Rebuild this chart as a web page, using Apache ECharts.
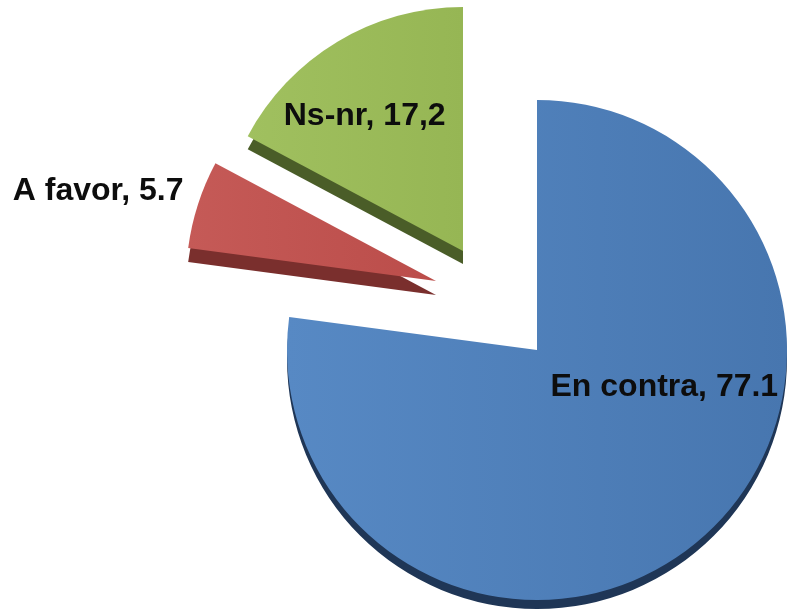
<!DOCTYPE html>
<html style="width:100%;height:100%">
<head>
    <meta charset="UTF-8">
    <title>En contra / A favor / Ns-nr</title>
    <script type="text/javascript" src="https://cdn.jsdelivr.net/npm/echarts@6/dist/echarts.min.js"></script>
</head>
<body style="margin:0;width:100%;height:100%;overflow:hidden;background:#fff">
    <div id="chart" style="width:788px;height:609px"></div>

    <script type="text/javascript">
        var categories = ['En contra', 'A favor', 'Ns-nr'];
        var values = [77.1, 5.7, 17.2];
        var valueTexts = ['77.1', '5.7', '17,2'];

        // look of each slice: top face gradient, side colour, where the exploded apex sits, label nudge
        var topColors = [['#5789c4', '#4776af'], ['#c55a57', '#bb4d4a'], ['#a0c05f', '#96b654']];
        var sideColors = ['#1f3656', '#7a2f2d', '#4a5d28'];
        var centers = [[537, 350], [436, 281], [463, 251]];
        var radii = [250, 250, 244];
        var depths = [9, 14, 13];
        var labelShift = [[43, -59], [-216, -51], [-34, -28]];

        var myChart = echarts.init(document.getElementById('chart'));

        function sliceData(own, side) {
            return values.map(function (v, i) {
                var color = 'transparent';
                if (i === own) {
                    color = side ? sideColors[i] : {
                        type: 'linear', x: 0, y: 0, x2: 1, y2: 0,
                        colorStops: [
                            { offset: 0, color: topColors[i][0] },
                            { offset: 1, color: topColors[i][1] }
                        ]
                    };
                }
                return {
                    name: categories[i],
                    value: v,
                    itemStyle: { color: color },
                    label: { show: !side && i === own }
                };
            });
        }

        var series = [];
        categories.forEach(function (c, k) {
            series.push({
                type: 'pie',
                silent: true,
                z: 1,
                radius: radii[k],
                center: [centers[k][0], centers[k][1] + depths[k]],
                startAngle: 90,
                clockwise: true,
                label: { show: false },
                labelLine: { show: false },
                data: sliceData(k, true)
            });
        });
        categories.forEach(function (c, k) {
            series.push({
                type: 'pie',
                silent: true,
                z: 2,
                radius: radii[k],
                center: centers[k],
                startAngle: 90,
                clockwise: true,
                label: {
                    position: 'inside',
                    fontFamily: 'Liberation Sans',
                    fontWeight: 'bold',
                    fontSize: 32,
                    color: '#0d0d0d',
                    formatter: function (p) {
                        return p.name + ', ' + valueTexts[p.dataIndex];
                    }
                },
                labelLine: { show: false },
                labelLayout: { dx: labelShift[k][0], dy: labelShift[k][1] },
                data: sliceData(k, false)
            });
        });

        var option = {
            animation: false,
            series: series
        };

        myChart.setOption(option);
    </script>
</body>
</html>
